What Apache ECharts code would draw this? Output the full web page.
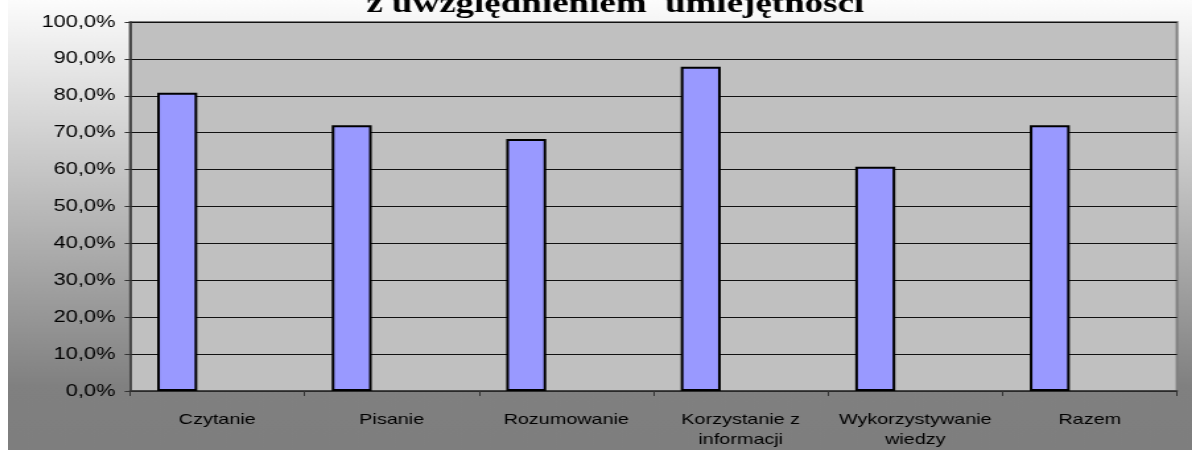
<!DOCTYPE html>
<html>
<head>
<meta charset="utf-8">
<script src="https://cdn.jsdelivr.net/npm/echarts@6/dist/echarts.min.js"></script>
<style>
  html, body { margin: 0; padding: 0; background: #fff; overflow: hidden; }
  /* the original picture is stretched sideways, so the chart is drawn narrower and widened */
  #chart {
    position: absolute;
    left: 8px;
    top: 0;
    width: 897px;
    height: 450px;
    transform: scaleX(1.32);
    transform-origin: 0 0;
  }
</style>
</head>
<body>
<div id="chart"></div>
<script>
const categories = ['Czytanie', 'Pisanie', 'Rozumowanie', 'Korzystanie z\ninformacji', 'Wykorzystywanie\nwiedzy', 'Razem'];
const wyniki = [0.808, 0.720, 0.683, 0.879, 0.608, 0.720];
// two empty series of the original sheet, they still take their slots in each group
const pustaSeria2 = [null, null, null, null, null, null];
const pustaSeria3 = [null, null, null, null, null, null];
const tytul = 'z uwzględnieniem  umiejętności';

const chart = echarts.init(document.getElementById('chart'));

function procent(v) {
  return (v * 100).toFixed(1).replace('.', ',') + '%';
}

chart.setOption({
  animation: false,
  backgroundColor: new echarts.graphic.LinearGradient(0, 0, 0, 1, [
    { offset: 0, color: '#fcfcfc' },
    { offset: 0.86, color: '#808080' },
    { offset: 1, color: '#7e7e7e' }
  ]),
  title: {
    text: tytul,
    left: 455,
    textAlign: 'center',
    top: -14,
    textStyle: { fontFamily: 'Liberation Serif', fontWeight: 'bold', fontSize: 28, color: '#000' }
  },
  grid: {
    show: true,
    left: 92.4,
    right: 11.4,
    top: 22,
    bottom: 59,
    backgroundColor: '#c0c0c0',
    borderColor: '#808080',
    borderWidth: 2
  },
  xAxis: {
    type: 'category',
    data: categories,
    axisLine: { lineStyle: { color: '#333', width: 1.5 } },
    axisTick: { show: true, length: 5, lineStyle: { color: '#333' } },
    axisLabel: {
      interval: 0,
      margin: 19,
      fontSize: 15,
      lineHeight: 20,
      color: '#000',
      fontFamily: 'Liberation Sans'
    }
  },
  yAxis: {
    type: 'value',
    min: 0,
    max: 1,
    interval: 0.1,
    axisLine: { show: true, lineStyle: { color: '#333', width: 1.5 } },
    axisTick: { show: true, length: 4, lineStyle: { color: '#333' } },
    axisLabel: {
      formatter: procent,
      margin: 11,
      fontSize: 16.5,
      color: '#000',
      fontFamily: 'Liberation Sans'
    },
    splitLine: { lineStyle: { color: '#111', width: 1 } }
  },
  series: [
    {
      type: 'bar',
      data: wyniki,
      barWidth: 30.3,
      barGap: '0%',
      itemStyle: { color: '#9999ff', borderColor: '#000', borderWidth: 2 }
    },
    { type: 'bar', data: pustaSeria2, barWidth: 30.3, barGap: '0%' },
    { type: 'bar', data: pustaSeria3, barWidth: 30.3, barGap: '0%' }
  ]
});
</script>
</body>
</html>
